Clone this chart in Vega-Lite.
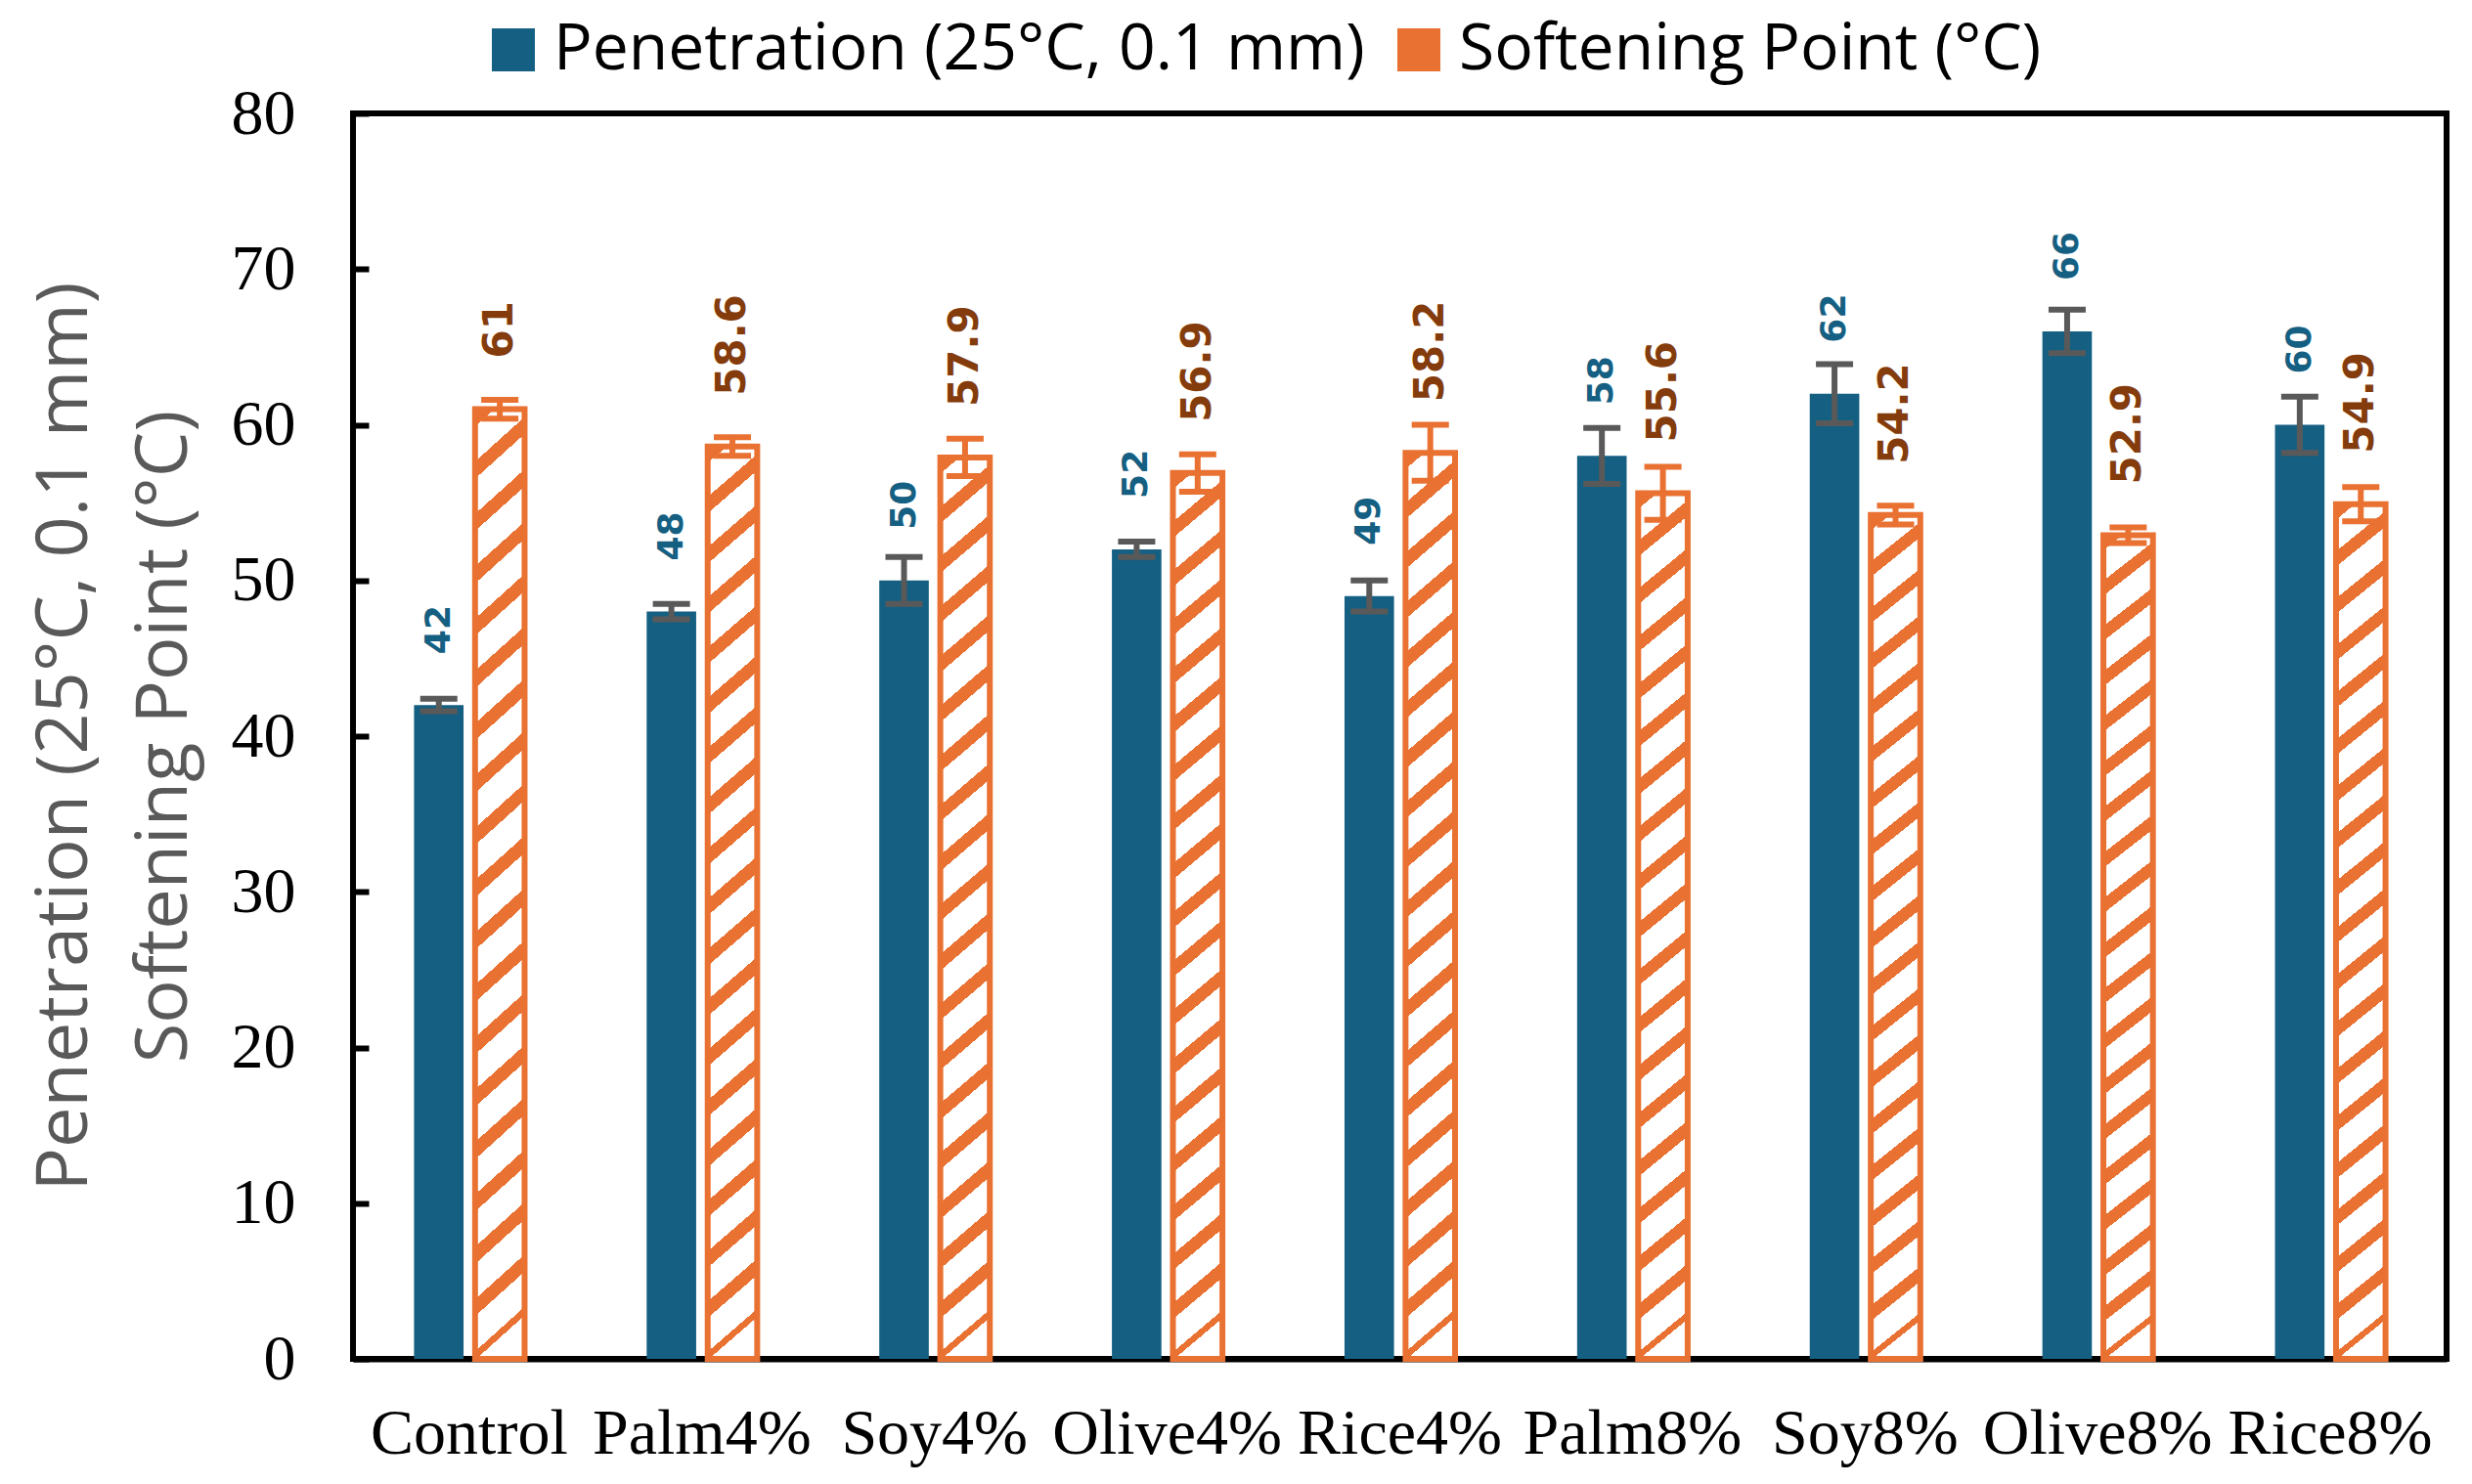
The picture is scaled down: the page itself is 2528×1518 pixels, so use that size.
{
  "$schema": "https://vega.github.io/schema/vega-lite/v6.json",
  "autosize": {"type": "none"},
  "width": 2141,
  "height": 1274,
  "padding": {"left": 361, "top": 116, "right": 26, "bottom": 128},
  "background": "white",
  "data": {
    "values": [
      {"cat": "Control", "series": "Penetration (25°C, 0.1 mm)", "value": 42, "lo": 41.6, "hi": 42.4},
      {"cat": "Control", "series": "Softening Point (°C)", "value": 61, "lo": 60.4, "hi": 61.6},
      {"cat": "Palm4%", "series": "Penetration (25°C, 0.1 mm)", "value": 48, "lo": 47.5, "hi": 48.5},
      {"cat": "Palm4%", "series": "Softening Point (°C)", "value": 58.6, "lo": 58.0, "hi": 59.2},
      {"cat": "Soy4%", "series": "Penetration (25°C, 0.1 mm)", "value": 50, "lo": 48.5, "hi": 51.5},
      {"cat": "Soy4%", "series": "Softening Point (°C)", "value": 57.9, "lo": 56.7, "hi": 59.1},
      {"cat": "Olive4%", "series": "Penetration (25°C, 0.1 mm)", "value": 52, "lo": 51.5, "hi": 52.5},
      {"cat": "Olive4%", "series": "Softening Point (°C)", "value": 56.9, "lo": 55.7, "hi": 58.1},
      {"cat": "Rice4%", "series": "Penetration (25°C, 0.1 mm)", "value": 49, "lo": 48.0, "hi": 50.0},
      {"cat": "Rice4%", "series": "Softening Point (°C)", "value": 58.2, "lo": 56.4, "hi": 60.0},
      {"cat": "Palm8%", "series": "Penetration (25°C, 0.1 mm)", "value": 58, "lo": 56.2, "hi": 59.8},
      {"cat": "Palm8%", "series": "Softening Point (°C)", "value": 55.6, "lo": 53.9, "hi": 57.3},
      {"cat": "Soy8%", "series": "Penetration (25°C, 0.1 mm)", "value": 62, "lo": 60.1, "hi": 63.9},
      {"cat": "Soy8%", "series": "Softening Point (°C)", "value": 54.2, "lo": 53.6, "hi": 54.8},
      {"cat": "Olive8%", "series": "Penetration (25°C, 0.1 mm)", "value": 66, "lo": 64.6, "hi": 67.4},
      {"cat": "Olive8%", "series": "Softening Point (°C)", "value": 52.9, "lo": 52.4, "hi": 53.4},
      {"cat": "Rice8%", "series": "Penetration (25°C, 0.1 mm)", "value": 60, "lo": 58.2, "hi": 61.8},
      {"cat": "Rice8%", "series": "Softening Point (°C)", "value": 54.9, "lo": 53.8, "hi": 56.0}
    ]
  },
  "encoding": {
    "x": {
      "field": "cat", "type": "nominal", "sort": null, "title": null,
      "scale": {"paddingInner": 0, "paddingOuter": 0}
    },
    "xOffset": {
      "field": "series", "type": "nominal",
      "scale": {"domain": ["Penetration (25°C, 0.1 mm)", "Softening Point (°C)"], "paddingInner": 0.1887, "paddingOuter": 1.345}
    },
    "y": {
      "field": "value", "type": "quantitative",
      "title": ["Penetration (25°C, 0.1 mm)", "Softening Point (°C)"],
      "scale": {"domain": [0, 80], "nice": false}
    }
  },
  "layer": [
    {
      "transform": [{"filter": {"field": "series", "equal": "Penetration (25°C, 0.1 mm)"}}],
      "mark": {"type": "bar"},
      "encoding": {
        "color": {
          "field": "series", "type": "nominal",
          "scale": {"domain": ["Penetration (25°C, 0.1 mm)", "Softening Point (°C)"], "range": ["#156082", "#E97132"]},
          "legend": {
            "title": null, "orient": "none", "legendX": 131, "legendY": -98,
            "direction": "horizontal", "padding": 0,
            "symbolType": "square", "symbolSize": 1936, "symbolStrokeWidth": 0,
            "labelFont": "Open Sans", "labelFontSize": 66, "labelColor": "black",
            "labelOffset": 8, "columnPadding": 22, "labelLimit": 2000,
            "encode": {
              "symbols": {
                "update": {
                  "fill": [
                    {
                      "test": "datum.value === 'Softening Point (°C)'",
                      "value": {
                        "gradient": "linear", "x1": 0, "y1": 1, "x2": 1, "y2": 0,
                        "stops": [
                          {"offset": 0, "color": "#E97132"}, {"offset": 0.3, "color": "#E97132"},
                          {"offset": 0.3, "color": "white"}, {"offset": 0.62, "color": "white"},
                          {"offset": 0.62, "color": "#E97132"}, {"offset": 1, "color": "#E97132"}
                        ]
                      }
                    },
                    {"value": "#156082"}
                  ]
                }
              }
            }
          }
        }
      }
    },
    {
      "transform": [{"filter": {"field": "series", "equal": "Softening Point (°C)"}}],
      "mark": {
        "type": "bar", "stroke": "#E97132", "strokeWidth": 6,
        "fill": {
          "gradient": "linear", "x1": 0, "y1": 0, "x2": 0.047, "y2": 1,
          "stops": [
            {"offset": 0, "color": "#E97132"}, {"offset": 0.018, "color": "#E97132"}, {"offset": 0.018, "color": "white"}, {"offset": 0.055, "color": "white"},
            {"offset": 0.055, "color": "#E97132"}, {"offset": 0.073, "color": "#E97132"}, {"offset": 0.073, "color": "white"}, {"offset": 0.11, "color": "white"},
            {"offset": 0.11, "color": "#E97132"}, {"offset": 0.128, "color": "#E97132"}, {"offset": 0.128, "color": "white"}, {"offset": 0.165, "color": "white"},
            {"offset": 0.165, "color": "#E97132"}, {"offset": 0.183, "color": "#E97132"}, {"offset": 0.183, "color": "white"}, {"offset": 0.22, "color": "white"},
            {"offset": 0.22, "color": "#E97132"}, {"offset": 0.238, "color": "#E97132"}, {"offset": 0.238, "color": "white"}, {"offset": 0.275, "color": "white"},
            {"offset": 0.275, "color": "#E97132"}, {"offset": 0.293, "color": "#E97132"}, {"offset": 0.293, "color": "white"}, {"offset": 0.33, "color": "white"},
            {"offset": 0.33, "color": "#E97132"}, {"offset": 0.348, "color": "#E97132"}, {"offset": 0.348, "color": "white"}, {"offset": 0.385, "color": "white"},
            {"offset": 0.385, "color": "#E97132"}, {"offset": 0.403, "color": "#E97132"}, {"offset": 0.403, "color": "white"}, {"offset": 0.44, "color": "white"},
            {"offset": 0.44, "color": "#E97132"}, {"offset": 0.458, "color": "#E97132"}, {"offset": 0.458, "color": "white"}, {"offset": 0.495, "color": "white"},
            {"offset": 0.495, "color": "#E97132"}, {"offset": 0.513, "color": "#E97132"}, {"offset": 0.513, "color": "white"}, {"offset": 0.55, "color": "white"},
            {"offset": 0.55, "color": "#E97132"}, {"offset": 0.568, "color": "#E97132"}, {"offset": 0.568, "color": "white"}, {"offset": 0.605, "color": "white"},
            {"offset": 0.605, "color": "#E97132"}, {"offset": 0.623, "color": "#E97132"}, {"offset": 0.623, "color": "white"}, {"offset": 0.66, "color": "white"},
            {"offset": 0.66, "color": "#E97132"}, {"offset": 0.678, "color": "#E97132"}, {"offset": 0.678, "color": "white"}, {"offset": 0.715, "color": "white"},
            {"offset": 0.715, "color": "#E97132"}, {"offset": 0.733, "color": "#E97132"}, {"offset": 0.733, "color": "white"}, {"offset": 0.77, "color": "white"},
            {"offset": 0.77, "color": "#E97132"}, {"offset": 0.788, "color": "#E97132"}, {"offset": 0.788, "color": "white"}, {"offset": 0.825, "color": "white"},
            {"offset": 0.825, "color": "#E97132"}, {"offset": 0.843, "color": "#E97132"}, {"offset": 0.843, "color": "white"}, {"offset": 0.88, "color": "white"},
            {"offset": 0.88, "color": "#E97132"}, {"offset": 0.898, "color": "#E97132"}, {"offset": 0.898, "color": "white"}, {"offset": 0.935, "color": "white"},
            {"offset": 0.935, "color": "#E97132"}, {"offset": 0.953, "color": "#E97132"}, {"offset": 0.953, "color": "white"}, {"offset": 0.99, "color": "white"},
            {"offset": 0.99, "color": "#E97132"}, {"offset": 0.999, "color": "#E97132"}, {"offset": 0.999, "color": "white"}, {"offset": 1, "color": "white"}
          ]
        }
      }
    },
    {
      "mark": {"type": "rule", "strokeWidth": 6},
      "encoding": {
        "y": {"field": "lo", "type": "quantitative", "title": ["Penetration (25°C, 0.1 mm)", "Softening Point (°C)"]},
        "y2": {"field": "hi"},
        "color": {"condition": {"test": "datum.series === 'Softening Point (°C)'", "value": "#E97132"}, "value": "#595959"}
      }
    },
    {
      "mark": {"type": "tick", "orient": "horizontal", "size": 38, "thickness": 6, "opacity": 1},
      "encoding": {
        "y": {"field": "lo", "type": "quantitative", "title": ["Penetration (25°C, 0.1 mm)", "Softening Point (°C)"]},
        "color": {"condition": {"test": "datum.series === 'Softening Point (°C)'", "value": "#E97132"}, "value": "#595959"}
      }
    },
    {
      "mark": {"type": "tick", "orient": "horizontal", "size": 38, "thickness": 6, "opacity": 1},
      "encoding": {
        "y": {"field": "hi", "type": "quantitative", "title": ["Penetration (25°C, 0.1 mm)", "Softening Point (°C)"]},
        "color": {"condition": {"test": "datum.series === 'Softening Point (°C)'", "value": "#E97132"}, "value": "#595959"}
      }
    },
    {
      "mark": {"type": "text", "angle": 270, "align": "left", "baseline": "middle", "dx": 52, "font": "DejaVu Sans", "fontWeight": "bold"},
      "encoding": {
        "text": {"field": "value", "type": "quantitative"},
        "color": {"condition": {"test": "datum.series === 'Softening Point (°C)'", "value": "#843C0C"}, "value": "#156082"},
        "size": {"condition": {"test": "datum.series === 'Softening Point (°C)'", "value": 42}, "value": 36}
      }
    }
  ],
  "config": {
    "view": {"stroke": "black", "strokeWidth": 6},
    "axisX": {
      "domain": true, "domainColor": "black", "domainWidth": 6, "ticks": false,
      "labelFont": "Liberation Serif", "labelFontSize": 66, "labelColor": "black",
      "labelAngle": 0, "labelPadding": 44, "labelLimit": 1000, "zindex": 1, "grid": false
    },
    "axisY": {
      "domain": false, "grid": false, "tickCount": 8,
      "tickSize": -16, "tickWidth": 6, "tickColor": "black",
      "labelFont": "Liberation Serif", "labelFontSize": 66, "labelColor": "black",
      "labelPadding": 75, "labelFlush": false, "labelOverlap": false,
      "titleFont": "Open Sans", "titleFontSize": 74, "titleFontWeight": "normal",
      "titleColor": "#595959", "titleLineHeight": 102, "titlePadding": 30, "zindex": 1
    }
  }
}
